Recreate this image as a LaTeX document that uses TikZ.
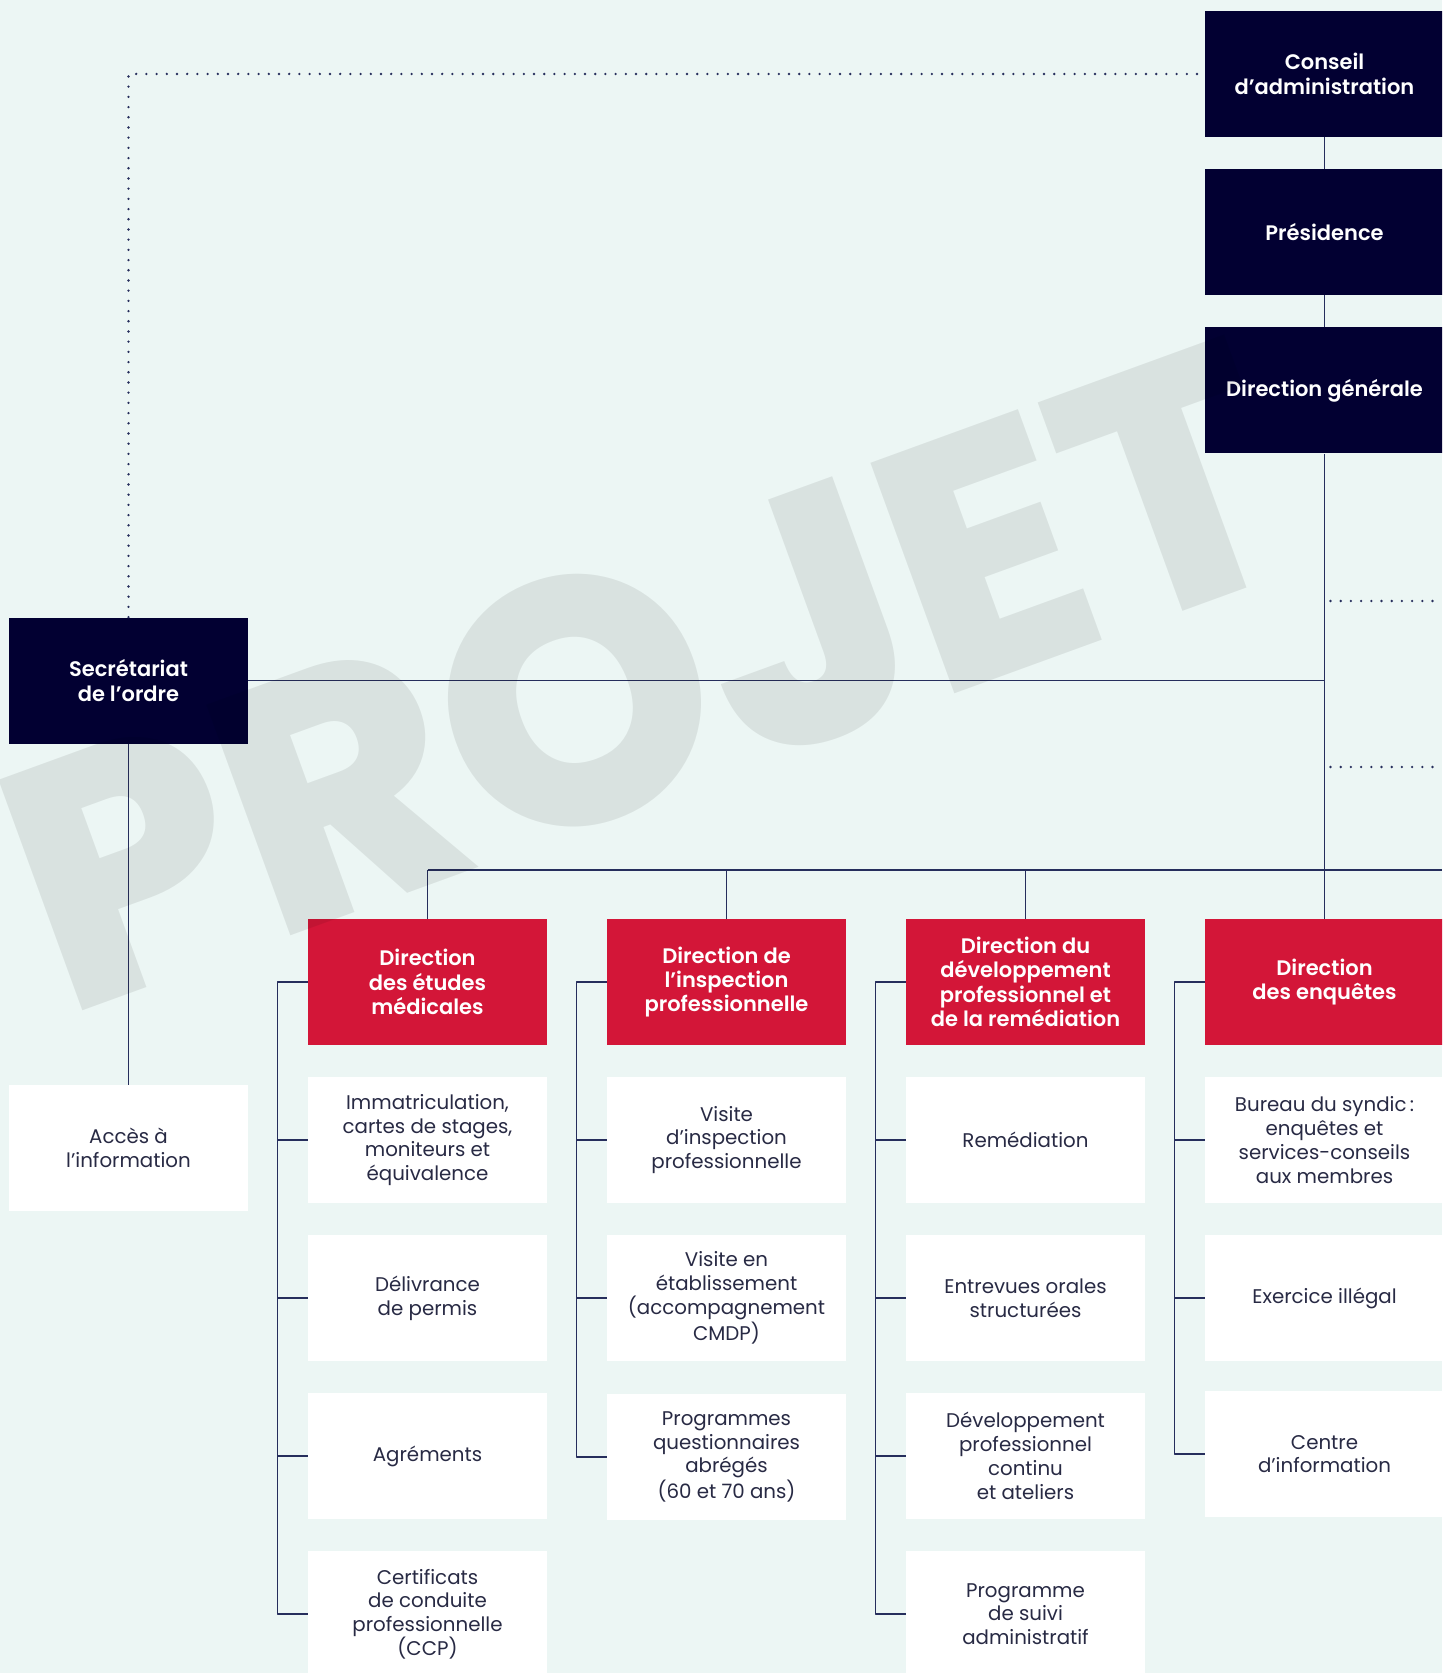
\documentclass[tikz,border=0pt]{standalone}
\usepackage{fontspec}
\setmainfont{Poppins}[BoldFont={Poppins SemiBold}]
\newfontfamily\filigranefont{Poppins ExtraBold}
\definecolor{fond}{RGB}{236,246,244}
\definecolor{marine}{RGB}{2,0,50}
\definecolor{rouge}{RGB}{211,22,56}
\definecolor{trait}{RGB}{38,46,92}
\definecolor{texte}{RGB}{40,42,68}
\begin{document}
\begin{tikzpicture}[x=0.5pt, y=-0.5pt, line join=round,
	boite/.style={rectangle, minimum width=119.5pt, minimum height=63pt, inner sep=2pt, align=center},
	instance/.style={boite, fill=marine, text=white, font=\fontsize{10.5}{12.2}\selectfont\bfseries},
	direction/.style={boite, fill=rouge, text=white, font=\fontsize{10.5}{12.2}\selectfont\bfseries},
	service/.style={boite, fill=white, text=texte, font=\fontsize{9.9}{11.9}\selectfont},
	lien/.style={draw=trait, line width=0.7pt},
	pointille/.style={draw=trait, line width=1.3pt, line cap=round, dash pattern=on 0pt off 5.1pt}]
		\useasboundingbox (0,0) rectangle (1442,1673);
		\clip (0,0) rectangle (1442,1673);
		\fill[fond] (0,0) rectangle (1442,1673);
		\node[instance] (CA) at (1324.5,74) {Conseil\\d’administration};
		\node[instance] (PR) at (1324.5,232) {Présidence};
		\node[instance] (DG) at (1324.5,390.5) {Direction générale};
		\node[instance] (SO) at (128.5,680.5) {Secrétariat\\de l’ordre};
		\node[service] (AI) at (128.5,1148) {Accès à\\l’information};
		\node[direction] (D1) at (427.5,982) {Direction\\des études\\médicales};
		\node[direction] (D2) at (726.5,982) {Direction de\\l’inspection\\professionnelle};
		\node[direction] (D3) at (1025.5,982) {Direction du\\développement\\professionnel et\\de la remédiation};
		\node[direction] (D4) at (1324.5,982) {Direction\\des enquêtes};
		\node[service] (S11) at (427.5,1140) {Immatriculation,\\cartes de stages,\\moniteurs et\\équivalence};
		\node[service] (S12) at (427.5,1298) {Délivrance\\de permis};
		\node[service] (S13) at (427.5,1456) {Agréments};
		\node[service] (S14) at (427.5,1614) {Certificats\\de conduite\\professionnelle\\(CCP)};
		\node[service] (S21) at (726.5,1140) {Visite\\d’inspection\\professionnelle};
		\node[service] (S22) at (726.5,1298) {Visite en\\établissement\\(accompagnement\\CMDP)};
		\node[service] (S23) at (726.5,1457) {Programmes\\questionnaires\\abrégés\\(60 et 70 ans)};
		\node[service] (S31) at (1025.5,1140) {Remédiation};
		\node[service] (S32) at (1025.5,1298) {Entrevues orales\\structurées};
		\node[service] (S33) at (1025.5,1456) {Développement\\professionnel\\continu\\et ateliers};
		\node[service] (S34) at (1025.5,1614) {Programme\\de suivi\\administratif};
		\node[service] (S41) at (1324.5,1140) {Bureau du syndic\,:\\enquêtes et\\services-conseils\\aux membres};
		\node[service] (S42) at (1324.5,1298) {Exercice illégal};
		\node[service] (S43) at (1324.5,1454) {Centre\\d’information};
		\coordinate (bus) at (1442,870);
		\coordinate (renvoiA) at (1442,601);
		\coordinate (renvoiB) at (1442,767);
		\draw[lien] (CA)--(PR);
		\draw[lien] (PR)--(DG);
		\draw[lien] (DG)--(D4);
		\draw[lien] (SO)--(SO -| DG);
		\draw[lien] (SO)--(AI);
		\draw[pointille] (SO.north) |- (CA.west);
		\draw[pointille] (renvoiA -| DG.south) ++(6,0) -- (renvoiA);
		\draw[pointille] (renvoiB -| DG.south) ++(6,0) -- (renvoiB);
		\draw[lien] (D1.north |- bus)--(bus);
		\foreach \d in {1,2,3,4}
			\draw[lien] (D\d.north)--(D\d.north |- bus);
		\foreach \d/\n in {1/4, 2/3, 3/4, 4/3} {
			\draw[lien] (D\d.west) -- ++(-30,0) |- (S\d\n.west);
			\foreach \i in {1,...,\n}
				\draw[lien] (S\d\i.west) -- ++(-30,0);
		}
		\node[rotate=20, anchor=base west, inner sep=0, text=black, text opacity=0.08, font=\filigranefont\fontsize{174}{174}\selectfont] (PJ) at (64,1018) {PROJET};
\end{tikzpicture}
\end{document}
